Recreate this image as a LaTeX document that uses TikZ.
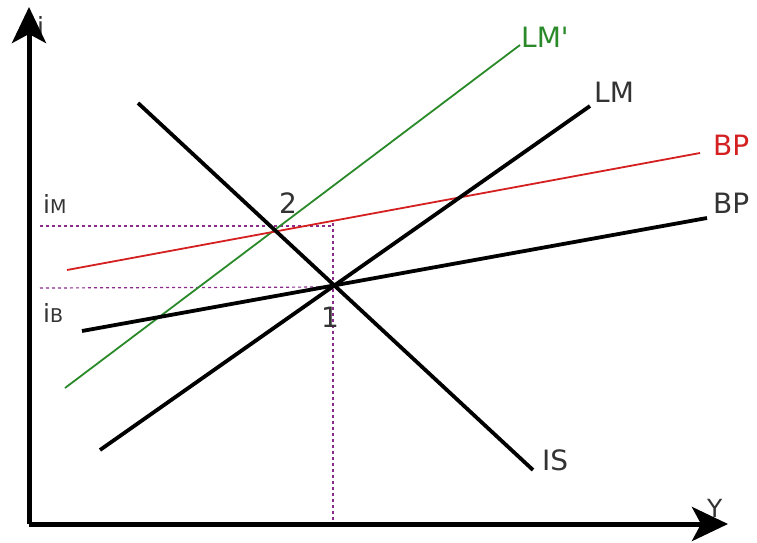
\documentclass[tikz,border=0pt]{standalone}
\usepackage{fontspec}
\setmainfont{DejaVu Sans}
\newfontfamily\rawfont{DejaVu Sans}[Ligatures=TeXOff]
\usetikzlibrary{arrows.meta}
\definecolor{dotc}{HTML}{8A2A8A}
\definecolor{bpred}{HTML}{D42020}
\definecolor{lmgreen}{HTML}{2A8A2A}
\definecolor{lbl}{HTML}{333333}
\begin{document}
\begin{tikzpicture}[x=1pt,y=-1pt,
  curve/.style={line width=3.8pt,black},
  thin curve/.style={line width=1.8pt},
  guide/.style={dotc,line width=1.2pt,dash pattern=on 3pt off 3pt},
  axis/.style={line width=5pt,-{Stealth[length=36pt,width=34pt,inset=9pt]}},
  lab/.style={inner sep=0pt,font=\fontsize{28}{28}\selectfont,text=lbl},
  ilab/.style={inner sep=0pt,font=\fontsize{25}{25}\selectfont,text=lbl}]
\useasboundingbox (0,0) rectangle (757,543);
\fill[white] (0,0) rectangle (757,543);
% points
\coordinate (O) at (29,524);
\coordinate (ytop) at (29,7);
\coordinate (xend) at (728,524);
\coordinate (p1) at (333,287);
\coordinate (p2v) at (333,223);
\coordinate (bot) at (333,524);
\coordinate (gM) at (40,226);
\coordinate (gMe) at (333,226);
\coordinate (gB) at (40,288);
% curves
\coordinate (is1) at (138,103); \coordinate (is2) at (533,470);
\coordinate (lm1) at (100,450); \coordinate (lm2) at (590,106);
\coordinate (lmp1) at (65,388); \coordinate (lmp2) at (520,45);
\coordinate (bpr1) at (67,270); \coordinate (bpr2) at (700,153);
\coordinate (bp1) at (82,331); \coordinate (bp2) at (707,218);
% guides
\draw[guide] (gM) -- (gMe);
\draw[guide] (gB) -- (p1);
\draw[guide] (p2v) -- (bot);
% colored
\draw[thin curve,lmgreen] (lmp1) -- (lmp2);
\draw[thin curve,bpred] (bpr1) -- (bpr2);
% black
\draw[curve] (is1) -- (is2);
\draw[curve] (lm1) -- (lm2);
\draw[curve] (bp1) -- (bp2);
% labels
\node[lab,anchor=base west] (tLMp) at (521,48) {\rawfont\textcolor{lmgreen}{LM'}};
\node[lab,anchor=base west] (tLM) at (594,102) {LM};
\node[lab,anchor=base west] (tBPr) at (713,155) {\textcolor{bpred}{BP}};
\node[lab,anchor=base west] (tBP) at (713,213) {BP};
\node[lab,anchor=base west] (tIS) at (542,470) {IS};
\node[lab,anchor=base west] (t2) at (279,213) {2};
\node[lab,anchor=base west] (t1) at (321,327) {1};
\node[ilab,anchor=base west] (tiM) at (43,213) {i{\fontsize{19}{19}\selectfont M}};
\node[ilab,anchor=base west] (tiB) at (43,322) {i{\fontsize{19}{19}\selectfont B}};
\node[ilab,anchor=base west] (tY) at (707,517) {Y};
\node[ilab,anchor=base west] (ti) at (37,36) {i};
% axes
\draw[axis] (O) -- (ytop);
\draw[axis] (O) -- (xend);
\end{tikzpicture}
\end{document}
